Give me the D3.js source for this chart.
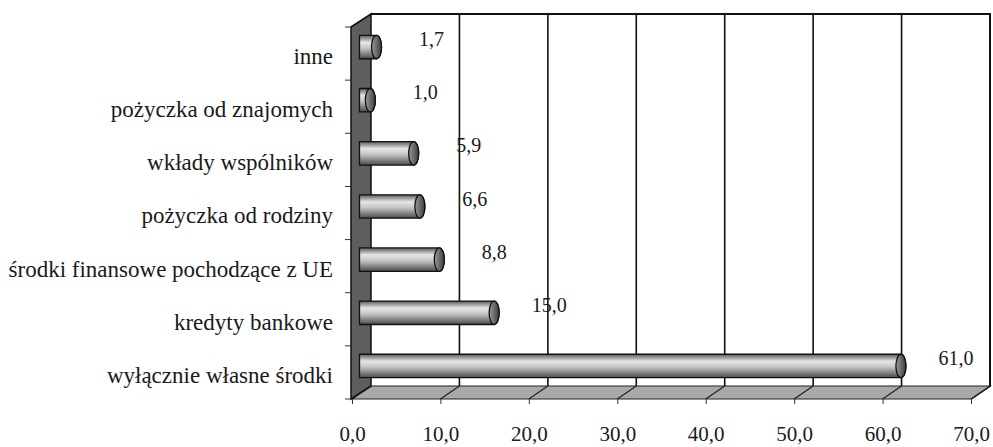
<!DOCTYPE html>
<html>
<head>
<meta charset="utf-8">
<script src="https://cdn.jsdelivr.net/npm/d3@7"></script>
<style>
  body { margin: 0; background: #fff; }
  text { font-family: "Liberation Serif", serif; fill: #1a1a1a; }
</style>
</head>
<body>
<svg id="chart" width="993" height="447"></svg>
<script>
var categories = ["inne", "pożyczka od znajomych", "wkłady wspólników", "pożyczka od rodziny",
                  "środki finansowe pochodzące z UE", "kredyty bankowe", "wyłącznie własne środki"];
var values = [1.7, 1.0, 5.9, 6.6, 8.8, 15.0, 61.0];
var ticks = [0, 10, 20, 30, 40, 50, 60, 70];

var svg = d3.select("#chart"),
    depthX = 19, depthY = -13;   // 3d depth of the plot box

var x = d3.scaleLinear().domain([0, 70]).range([352, 971]);
var y = d3.scaleBand().domain(categories).range([27, 399]);

var pl = d3.formatLocale({decimal: ",", thousands: " ", grouping: [3], currency: ["", ""]});
var fmt = pl.format(".1f");

var defs = svg.append("defs");
var body = defs.append("linearGradient").attr("id", "cyl").attr("x1", 0).attr("y1", 0).attr("x2", 0).attr("y2", 1);
body.append("stop").attr("offset", "0%").attr("stop-color", "#5a5a5a");
body.append("stop").attr("offset", "30%").attr("stop-color", "#e6e6e6");
body.append("stop").attr("offset", "55%").attr("stop-color", "#c4c4c4");
body.append("stop").attr("offset", "100%").attr("stop-color", "#4a4a4a");
var cap = defs.append("linearGradient").attr("id", "cap").attr("x1", 0).attr("y1", 0).attr("x2", 1).attr("y2", 0);
cap.append("stop").attr("offset", "0%").attr("stop-color", "#9a9a9a");
cap.append("stop").attr("offset", "100%").attr("stop-color", "#3c3c3c");

var x0 = x(0), x1 = x(70), yTop = y.range()[0], yBot = y.range()[1];

// back wall
svg.append("rect")
    .attr("x", x0 + depthX).attr("y", yTop + depthY)
    .attr("width", x1 - x0).attr("height", yBot - yTop)
    .attr("fill", "#fff");

// gridlines on back wall
svg.append("g").selectAll("line").data(ticks.slice(1))
  .enter().append("line")
    .attr("x1", function(d) { return x(d) + depthX; })
    .attr("x2", function(d) { return x(d) + depthX; })
    .attr("y1", yTop + depthY).attr("y2", yBot + depthY)
    .attr("stroke", "#111").attr("stroke-width", 1.6);

// back wall top and right border
svg.append("path")
    .attr("d", "M" + (x0 + depthX) + "," + (yTop + depthY) + "H" + (x1 + depthX) + "V" + (yBot + depthY) +
               "L" + x1 + "," + yBot)
    .attr("fill", "none").attr("stroke", "#111").attr("stroke-width", 2);

// floor
svg.append("path")
    .attr("d", "M" + x0 + "," + yBot + "H" + x1 + "L" + (x1 + depthX) + "," + (yBot + depthY) +
               "H" + (x0 + depthX) + "Z")
    .attr("fill", "#a9a9a9").attr("stroke", "#222").attr("stroke-width", 1.2);
svg.append("g").selectAll("line").data(ticks.slice(1, -1))
  .enter().append("line")
    .attr("x1", function(d) { return x(d); }).attr("y1", yBot)
    .attr("x2", function(d) { return x(d) + depthX; }).attr("y2", yBot + depthY)
    .attr("stroke", "#222").attr("stroke-width", 1.2);

// left wall
svg.append("path")
    .attr("d", "M" + (x0 - 1) + "," + yTop + "L" + (x0 + depthX) + "," + (yTop + depthY) +
               "V" + (yBot + depthY) + "L" + (x0 - 1) + "," + yBot + "Z")
    .attr("fill", "#5e5e5e").attr("stroke", "#111").attr("stroke-width", 1.5);

// category ticks on wall front edge
svg.append("g").selectAll("line").data(d3.range(categories.length + 1))
  .enter().append("line")
    .attr("x1", x0 - 7).attr("x2", x0 - 1)
    .attr("y1", function(i) { return yTop + i * y.step(); })
    .attr("y2", function(i) { return yTop + i * y.step(); })
    .attr("stroke", "#333").attr("stroke-width", 1);

// cylinders at middle depth
var barH = y.bandwidth() * 0.44, rx = 5;
var bars = svg.append("g").selectAll("g").data(values)
  .enter().append("g")
    .attr("transform", function(d, i) {
      return "translate(" + (depthX / 2) + "," + (y(categories[i]) + y.bandwidth() / 2 + depthY / 2) + ")";
    });
bars.append("path")
    .attr("d", function(d) {
      var a = x0 - 2, b = x(d);
      return "M" + a + "," + (-barH / 2) + "H" + b +
             "A" + rx + "," + (barH / 2) + " 0 0 1 " + b + "," + (barH / 2) + "H" + a + "Z";
    })
    .attr("fill", "url(#cyl)").attr("stroke", "#111").attr("stroke-width", 1.3);
bars.append("ellipse")
    .attr("cx", function(d) { return x(d); }).attr("cy", 0)
    .attr("rx", rx).attr("ry", barH / 2)
    .attr("fill", "url(#cap)").attr("stroke", "#111").attr("stroke-width", 1.3);

// value labels
svg.append("g").selectAll("text").data(values)
  .enter().append("text")
    .attr("x", function(d) { return x(d) + depthX / 2 + 55; })
    .attr("y", function(d, i) { return y(categories[i]) + y.bandwidth() / 2 + depthY / 2 - 8; })
    .attr("text-anchor", "middle").attr("dy", "0.35em")
    .style("font-size", "20px")
    .text(function(d) { return fmt(d); });

// category axis
var yAxis = svg.append("g").attr("transform", "translate(" + (x0 - 1) + ",3)")
    .call(d3.axisLeft(y).tickSize(0).tickPadding(18));
yAxis.select(".domain").remove();
yAxis.selectAll("text").style("font-size", "23px").style("font-family", "Liberation Serif");

// value axis
var xAxis = svg.append("g").attr("transform", "translate(0," + yBot + ")")
    .call(d3.axisBottom(x).tickValues(ticks).tickSize(5).tickPadding(22).tickFormat(fmt));
xAxis.select(".domain").remove();
xAxis.selectAll("line").attr("stroke", "#333");
xAxis.selectAll("text").style("font-size", "21px").style("font-family", "Liberation Serif");
</script>
</body>
</html>
